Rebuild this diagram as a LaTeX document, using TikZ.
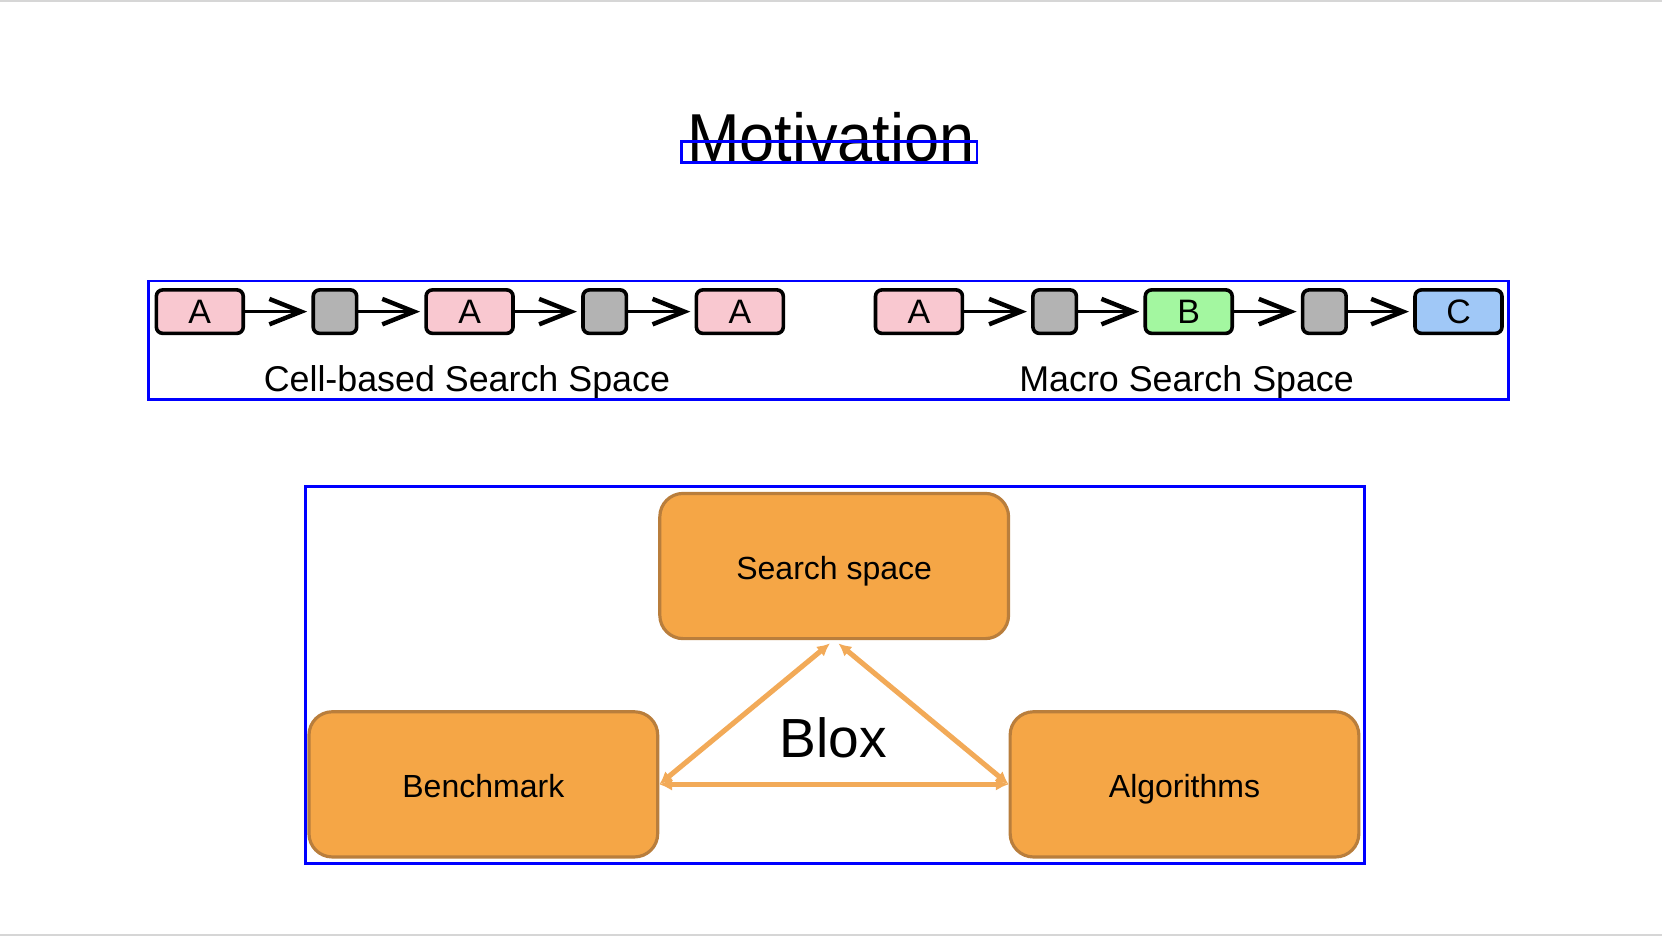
\documentclass[tikz,border=0pt]{standalone}
\usepackage{fontspec}
\setmainfont{Liberation Sans}
\usetikzlibrary{arrows.meta,calc}
\definecolor{pinkf}{HTML}{F9C8D0}
\definecolor{grayf}{HTML}{B3B3B3}
\definecolor{greenf}{HTML}{A3F7A0}
\definecolor{bluef}{HTML}{A0C8F7}
\definecolor{orf}{HTML}{F5A646}
\definecolor{ord}{HTML}{B97E3C}
\definecolor{orl}{HTML}{F2AA58}
\definecolor{annot}{RGB}{0,0,255}
\definecolor{edge}{HTML}{D6D6D6}
\begin{document}
\begin{tikzpicture}[x=0.5pt,y=-0.5pt,
  cell/.style={draw=black, line width=1.7pt, rounded corners=3pt, minimum width=41pt, minimum height=20.5pt, inner sep=0pt, font=\fontsize{16}{16}\selectfont},
  pinkc/.style={cell, fill=pinkf},
  grayc/.style={cell, fill=grayf, minimum width=20.5pt},
  greenc/.style={cell, fill=greenf},
  bluec/.style={cell, fill=bluef},
  chain/.style={line width=1.6pt, -{Straight Barb[length=15pt,width=12pt,line width=2.1pt]}, shorten >=2pt},
  obox/.style={draw=ord, fill=orf, line width=1.5pt, rounded corners=11pt, minimum width=164.5pt, minimum height=68.5pt, inner sep=0pt},
  otext/.style={anchor=base, font=\fontsize{15.1}{15.1}\selectfont},
  olink/.style={draw=orl, line width=2.4pt, {Latex[length=6pt,width=6pt]}-{Latex[length=6pt,width=6pt]}},
  lbl/.style={anchor=base, font=\fontsize{16.9}{16.9}\selectfont},
  annotbox/.style={draw=annot, line width=1.3pt}
]
\useasboundingbox (0,0) rectangle (1568,883);
\draw[edge, line width=1pt] (0,0.5) -- (1568,0.5);
\draw[edge, line width=1pt] (0,882.5) -- (1568,882.5);

% title
\node[anchor=base, font=\fontsize{32}{32}\selectfont] (title) at (783.8,152.5) {\scalebox{0.93}[1]{Motivation}};

% cell-based chain
\node[pinkc] (a1) at (188.5,294) {A};
\node[grayc] (g1) at (316,294) {};
\node[pinkc] (a2) at (443,294) {A};
\node[grayc] (g2) at (570.5,294) {};
\node[pinkc] (a3) at (698,294) {A};
\draw[chain] (a1) -- (g1);
\draw[chain] (g1) -- (a2);
\draw[chain] (a2) -- (g2);
\draw[chain] (g2) -- (a3);
\node[lbl] (cellLbl) at (440.5,369) {Cell-based Search Space};

% macro chain
\node[pinkc] (m1) at (867,294) {A};
\node[grayc] (m2) at (995,294) {};
\node[greenc] (m3) at (1121.5,294) {B};
\node[grayc] (m4) at (1249.5,294) {};
\node[bluec] (m5) at (1376,294) {C};
\draw[chain] (m1) -- (m2);
\draw[chain] (m2) -- (m3);
\draw[chain] (m3) -- (m4);
\draw[chain] (m4) -- (m5);
\node[lbl] (macroLbl) at (1119.5,369) {Macro Search Space};

% Blox triangle
\node[obox] (ss) at (787,534) {};
\node[obox] (bench) at (456,740) {};
\node[obox] (alg) at (1117.5,740) {};
\node[otext] (ssT) at (787,546.8) {Search space};
\node[otext] (benchT) at (456,752.8) {Benchmark};
\node[otext] (algT) at (1117.5,752.8) {Algorithms};
\coordinate (ssL) at ($(ss.south)+(-4,3)$);
\coordinate (ssR) at ($(ss.south)+(4,3)$);
\draw[olink] (bench.east) -- (ssL);
\draw[olink] (ssR) -- (alg.west);
\draw[olink] (bench.east) -- (alg.west);
\node[anchor=base, font=\fontsize{26}{26}\selectfont] (blox) at (786,715) {Blox};

% annotation boxes
\draw[annotbox] (643,133.6) rectangle (921.8,153.1);
\draw[annotbox] (140,265) rectangle (1423,377);
\draw[annotbox] (288,459) rectangle (1287,815);
\end{tikzpicture}
\end{document}
